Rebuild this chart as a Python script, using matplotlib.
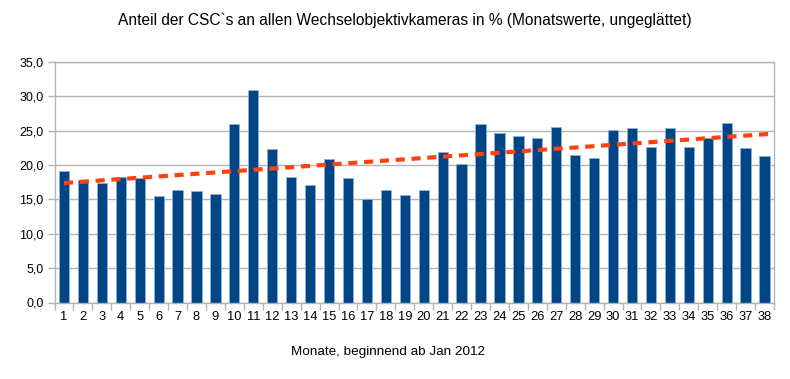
import matplotlib
matplotlib.use("Agg")
import matplotlib.pyplot as plt
import numpy as np

plt.rcParams['font.family'] = ['Liberation Sans', 'DejaVu Sans']

months = list(range(1, 39))
values = [19.1, 17.9, 17.4, 18.3, 18.1, 15.5, 16.3, 16.2, 15.8, 26.0,
          30.9, 22.3, 18.2, 17.1, 20.9, 18.1, 15.0, 16.4, 15.7, 16.3,
          21.9, 20.2, 26.0, 24.7, 24.2, 23.9, 25.5, 21.5, 21.1, 25.1,
          25.4, 22.7, 25.4, 22.6, 24.0, 26.1, 22.5, 21.3]
yticks = [0, 5, 10, 15, 20, 25, 30, 35]

title = "Anteil der CSC`s an allen Wechselobjektivkameras in % (Monatswerte, ungeglättet)"
xlabel = "Monate, beginnend ab Jan 2012"

fig = plt.figure(figsize=(7.9, 3.79), dpi=100)
ax = fig.add_axes([54.5/790, 1 - 302.5/379, (774 - 54.5)/790, 240.5/379])

x = np.array(months)
ax.bar(x, values, width=0.54, color='#004586', edgecolor='#8fb0d0', linewidth=0.6, zorder=2)

coef = np.polyfit(x, np.array(values), 1)
xt = np.array([1, 38.5])
ax.plot(xt, np.polyval(coef, xt), color='#ff420e', linestyle=(0, (2.2, 1.6)), linewidth=3, zorder=3)

ax.set_xlim(0.5, 38.5)
ax.set_ylim(0, 35)
ax.set_yticks(yticks)
ax.set_yticklabels([f"{v:.1f}".replace('.', ',') for v in yticks], fontsize=9)
ax.yaxis.grid(True, color='#b3b3b3', linewidth=1)
ax.set_axisbelow(True)

ax.set_xticks(x)
ax.set_xticklabels([str(m) for m in months], fontsize=9.3)
ax.set_xticks(np.arange(0.5, 39, 1), minor=True)
ax.tick_params(axis='x', which='major', length=0, pad=6)
ax.tick_params(axis='x', which='minor', length=5, color='#b3b3b3', width=1)
ax.tick_params(axis='y', length=5, color='#b3b3b3', width=1, pad=3)

for s in ax.spines.values():
    s.set_color('#b3b3b3')
    s.set_linewidth(1)

fig.text(405/790, 1 - 20/379, title, ha='center', va='center', fontsize=11.2)
fig.text(388/790, 1 - 352/379, xlabel, ha='center', va='center', fontsize=9.7)

fig.savefig("out.png", dpi=100)
